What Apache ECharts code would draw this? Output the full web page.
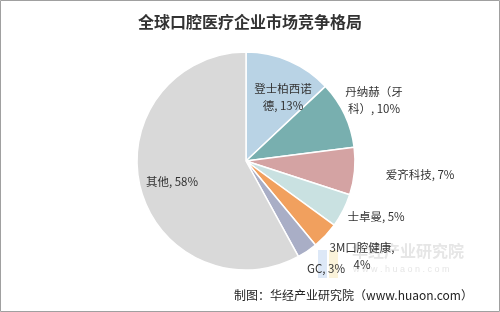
<!DOCTYPE html>
<html>
<head>
<meta charset="utf-8">
<script src="https://cdn.jsdelivr.net/npm/echarts@6/dist/echarts.min.js"></script>
<style>
html, body { margin: 0; padding: 0; background: #fff; }
#main { width: 500px; height: 312px; }
</style>
</head>
<body>
<div id="main"></div>
<script>
// 数据
const names = ["登士柏西诺德", "丹纳赫（牙科）", "爱齐科技", "士卓曼", "3M口腔健康", "GC", "其他"];
const labelTexts = ["登士柏西诺\n德, 13%", "丹纳赫（牙\n科）, 10%", "爱齐科技, 7%", "士卓曼, 5%", "3M口腔健康,\n4%", "GC, 3%", "其他, 58%"];
const shares = [13, 10, 7, 5, 4, 3, 58];
const colors = ["#b9d3e5", "#78afaf", "#d4a3a3", "#c9e1e1", "#f1a05e", "#a9aec6", "#d9d9d9"];

// 标签位置（中心点）
const labelPos = [[283, 97], [374, 100], [420, 175], [376, 217], [362, 256], [326, 269], [172, 182]];

const chart = echarts.init(document.getElementById("main"));

const option = {
    animation: false,
    title: {
        text: "全球口腔医疗企业市场竞争格局",
        left: "center",
        top: 9,
        textStyle: {
            fontFamily: "Noto Sans CJK SC",
            fontSize: 16,
            fontWeight: "bold",
            color: "#333"
        }
    },
    graphic: [
        {
            type: "rect",
            shape: { x: 0.5, y: 0.5, width: 499, height: 311 },
            style: { fill: "none", stroke: "#a0a0a0", lineWidth: 1 },
            z: 100
        },
        // 水印
        { type: "rect", shape: { x: 318, y: 250, width: 9, height: 28 }, style: { fill: "#dde8f7" }, z: 0 },
        { type: "rect", shape: { x: 329, y: 250, width: 9, height: 28 }, style: { fill: "#fbf3da" }, z: 0 },
        {
            type: "text", x: 352, y: 243,
            style: { text: "华经产业研究院", fontSize: 16, fontWeight: "bold", fill: "#e6e6e6", fontFamily: "Noto Sans CJK SC" },
            z: 0
        },
        {
            type: "text", x: 353, y: 265,
            style: { text: "w w w . h u a o n . c o m", fontSize: 9, fill: "#e6e6e6", fontFamily: "Liberation Sans" },
            z: 0
        },
        {
            type: "text", x: 234, y: 289,
            style: { text: "制图：华经产业研究院（www.huaon.com）", fontSize: 12, fill: "#222", fontFamily: "Noto Sans CJK SC" },
            z: 10
        }
    ],
    series: [
        {
            type: "pie",
            center: [246, 161],
            radius: 109,
            startAngle: 90,
            clockwise: true,
            z: 5,
            itemStyle: { borderColor: "#fff", borderWidth: 1.5 },
            label: {
                show: true,
                formatter: (p) => labelTexts[p.dataIndex],
                fontSize: 11.5,
                lineHeight: 17,
                color: "#333",
                fontFamily: "Noto Sans CJK SC",
                align: "center"
            },
            labelLine: { show: false },
            labelLayout: (p) => ({
                x: labelPos[p.dataIndex][0],
                y: labelPos[p.dataIndex][1],
                align: "center",
                verticalAlign: "middle"
            }),
            data: names.map((n, i) => ({
                name: n,
                value: shares[i],
                itemStyle: { color: colors[i] }
            }))
        }
    ]
};

chart.setOption(option);
</script>
</body>
</html>
